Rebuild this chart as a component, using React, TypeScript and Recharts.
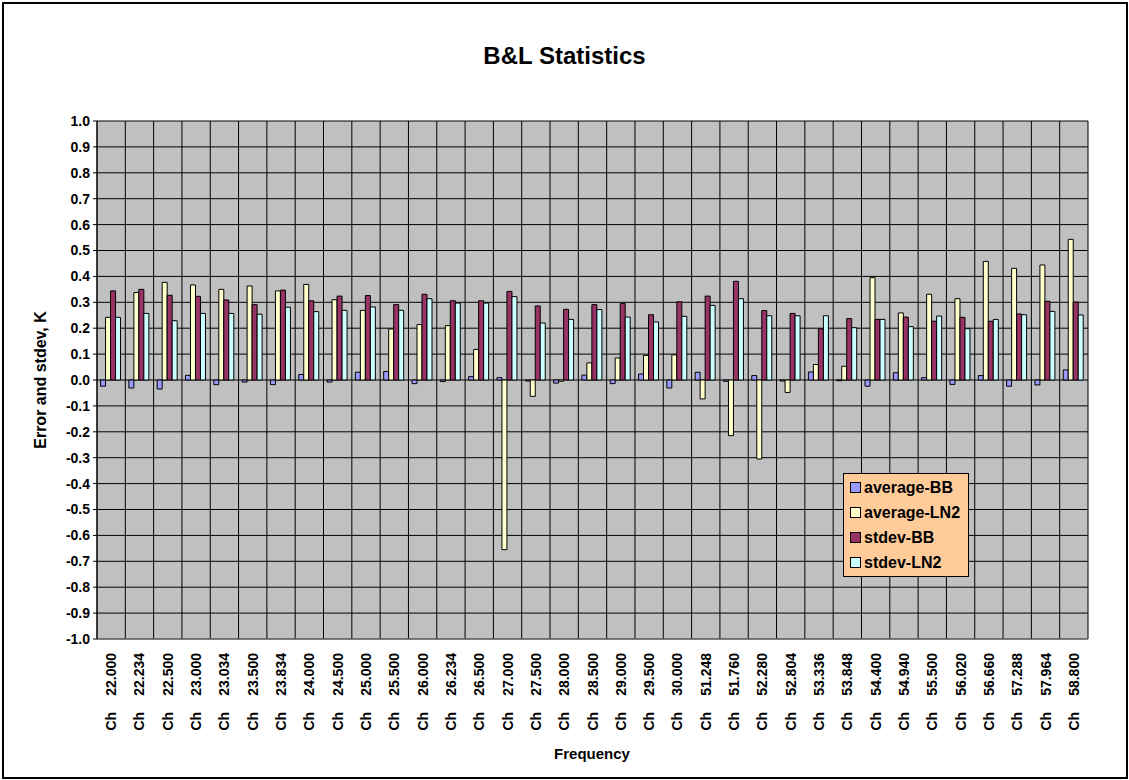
import { Bar, BarChart, CartesianGrid, Legend, XAxis, YAxis } from 'recharts';

const categories = [
  '22.000', '22.234', '22.500', '23.000', '23.034', '23.500', '23.834', '24.000', '24.500',
  '25.000', '25.500', '26.000', '26.234', '26.500', '27.000', '27.500', '28.000', '28.500',
  '29.000', '29.500', '30.000', '51.248', '51.760', '52.280', '52.804', '53.336', '53.848',
  '54.400', '54.940', '55.500', '56.020', '56.660', '57.288', '57.964', '58.800'
];

const averageBB = [
  -0.024, -0.031, -0.035, 0.018, -0.018, -0.008, -0.018, 0.021, -0.008,
  0.03, 0.033, -0.014, -0.006, 0.013, 0.009, -0.004, -0.012, 0.019,
  -0.014, 0.023, -0.031, 0.03, -0.005, 0.017, -0.004, 0.031, -0.003,
  -0.024, 0.028, 0.009, -0.017, 0.017, -0.024, -0.019, 0.039
];

const averageLN2 = [
  0.242, 0.338, 0.377, 0.367, 0.35, 0.363, 0.344, 0.369, 0.31,
  0.269, 0.197, 0.214, 0.21, 0.118, -0.655, -0.063, -0.005, 0.066,
  0.085, 0.095, 0.097, -0.073, -0.215, -0.305, -0.048, 0.06, 0.053,
  0.395, 0.259, 0.331, 0.314, 0.458, 0.431, 0.444, 0.543
];

const stdevBB = [
  0.344, 0.35, 0.327, 0.323, 0.309, 0.291, 0.347, 0.306, 0.324,
  0.326, 0.291, 0.331, 0.306, 0.306, 0.342, 0.286, 0.273, 0.291,
  0.295, 0.252, 0.302, 0.324, 0.381, 0.268, 0.257, 0.198, 0.237,
  0.234, 0.243, 0.227, 0.242, 0.227, 0.255, 0.304, 0.301
];

const stdevLN2 = [
  0.242, 0.257, 0.229, 0.257, 0.257, 0.254, 0.281, 0.264, 0.269,
  0.282, 0.269, 0.314, 0.297, 0.297, 0.322, 0.22, 0.234, 0.272,
  0.243, 0.224, 0.246, 0.288, 0.314, 0.248, 0.248, 0.248, 0.202,
  0.234, 0.206, 0.247, 0.198, 0.234, 0.252, 0.265, 0.251
];

const yTicks = [
  1.0, 0.9, 0.8, 0.7, 0.6, 0.5, 0.4, 0.3, 0.2, 0.1, 0.0,
  -0.1, -0.2, -0.3, -0.4, -0.5, -0.6, -0.7, -0.8, -0.9, -1.0
];

const SERIES = [
  { key: 'averageBB', name: 'average-BB', fill: '#9999FF' },
  { key: 'averageLN2', name: 'average-LN2', fill: '#FFFFCC' },
  { key: 'stdevBB', name: 'stdev-BB', fill: '#993366' },
  { key: 'stdevLN2', name: 'stdev-LN2', fill: '#CCFFFF' }
];

const FONT = 'Arial, "Liberation Sans", sans-serif';

const data = categories.map((freq, i) => ({
  freq,
  averageBB: averageBB[i],
  averageLN2: averageLN2[i],
  stdevBB: stdevBB[i],
  stdevLN2: stdevLN2[i]
}));

// "Ch" + wide gap + frequency, read bottom-to-top
const CategoryTick = (props: any) => {
  const { x, y, payload } = props;
  const tx = x + 5;
  const ty = y + 14;
  return (
    <text
      x={tx}
      y={ty}
      transform={`rotate(-90 ${tx} ${ty})`}
      textAnchor="end"
      fill="#000"
      fontSize={14}
      fontWeight="bold"
      fontFamily={FONT}
    >
      <tspan>Ch</tspan>
      <tspan dx={16}>{payload.value}</tspan>
    </text>
  );
};

const LegendBox = () => (
  <div
    style={{
      background: '#FFCC99',
      border: '1px solid #000',
      padding: '1px 4px 1px 6px',
      fontFamily: FONT,
      fontSize: 16,
      fontWeight: 'bold',
      color: '#000'
    }}
  >
    {SERIES.map((s) => (
      <div key={s.key} style={{ height: 25, display: 'flex', alignItems: 'center', whiteSpace: 'nowrap' }}>
        <span
          style={{
            display: 'inline-block',
            width: 9,
            height: 9,
            background: s.fill,
            border: '1px solid #000',
            marginRight: 3
          }}
        />
        {s.name}
      </div>
    ))}
  </div>
);

export default function App() {
  return (
    <div style={{ position: 'absolute', left: 0, top: 0, width: 1129, height: 780, background: '#fff' }}>
      <div
        style={{
          position: 'absolute',
          left: 2,
          top: 2,
          width: 1126,
          height: 777,
          border: '2px solid #000',
          boxSizing: 'border-box'
        }}
      />
      <div
        style={{
          position: 'absolute',
          left: 0,
          width: 1129,
          top: 42,
          textAlign: 'center',
          fontFamily: FONT,
          fontSize: 24,
          fontWeight: 'bold'
        }}
      >
        B&amp;L Statistics
      </div>
      <div
        style={{
          position: 'absolute',
          left: 41,
          top: 380,
          transform: 'translate(-50%, -50%) rotate(-90deg)',
          whiteSpace: 'nowrap',
          fontFamily: FONT,
          fontSize: 16,
          fontWeight: 'bold'
        }}
      >
        Error and stdev, K
      </div>
      <div
        style={{
          position: 'absolute',
          left: 96,
          width: 992,
          top: 745,
          textAlign: 'center',
          fontFamily: FONT,
          fontSize: 15,
          fontWeight: 'bold'
        }}
      >
        Frequency
      </div>
      <div style={{ position: 'absolute', left: 0, top: 0 }}>
        <BarChart
          width={1129}
          height={780}
          data={data}
          margin={{ top: 121, right: 41, bottom: 0, left: 0 }}
          barCategoryGap="12.5%"
          barGap={0}
        >
          <CartesianGrid
            fill="#C0C0C0"
            fillOpacity={1}
            stroke="#000"
            verticalCoordinatesGenerator={({ offset }: any) =>
              categories
                .map((_, i) => offset.left + (offset.width * i) / categories.length)
                .concat(offset.left + offset.width)
            }
          />
          <XAxis
            dataKey="freq"
            height={141}
            interval={0}
            tickLine={false}
            tickSize={0}
            tickMargin={0}
            axisLine={{ stroke: '#808080' }}
            tick={<CategoryTick />}
          />
          <YAxis
            width={97}
            domain={[-1, 1]}
            ticks={yTicks}
            interval={0}
            allowDataOverflow
            tickFormatter={(v: number) => v.toFixed(1)}
            tickSize={4}
            tickMargin={3}
            tickLine={{ stroke: '#000' }}
            axisLine={{ stroke: '#000' }}
            tick={{ fill: '#000', fontSize: 14, fontWeight: 'bold', fontFamily: FONT }}
          />
          <Legend
            layout="vertical"
            verticalAlign="middle"
            align="center"
            wrapperStyle={{ left: 843, top: 473, width: 126 }}
            content={<LegendBox />}
          />
          {SERIES.map((s) => (
            <Bar
              key={s.key}
              dataKey={s.key}
              name={s.name}
              fill={s.fill}
              stroke="#000"
              strokeWidth={1}
              isAnimationActive={false}
            />
          ))}
        </BarChart>
      </div>
    </div>
  );
}
